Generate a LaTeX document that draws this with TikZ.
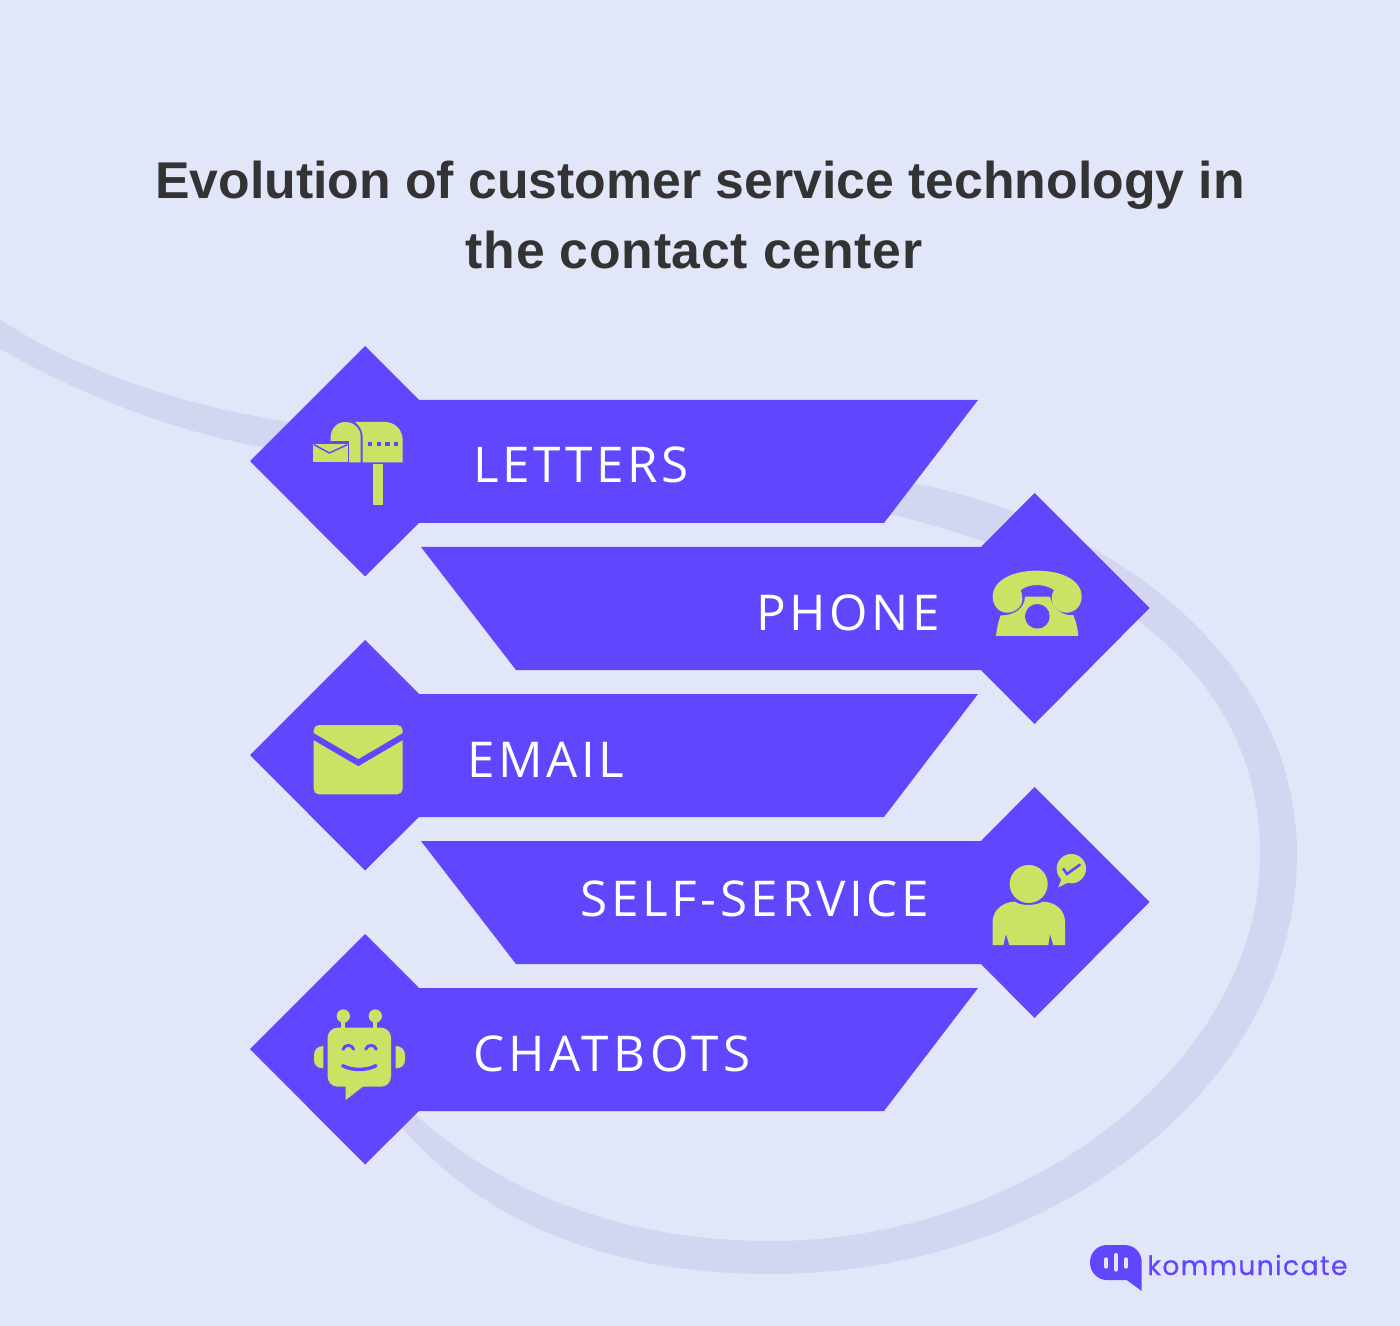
\documentclass[tikz,border=0pt]{standalone}
\usepackage{fontspec}
\setmainfont{Liberation Sans}
\newfontfamily\labelfont[LetterSpace=7.5]{Open Sans}
\newfontfamily\labelwide[LetterSpace=9]{Open Sans}
\newfontfamily\logofont[LetterSpace=5,FakeBold=0.4]{Poppins}
\newfontfamily\titlewide[LetterSpace=1.4]{Liberation Sans}
\definecolor{bgc}{HTML}{E2E6F9}
\definecolor{swoosh}{HTML}{D2D6F0}
\definecolor{vio}{HTML}{6047FE}
\definecolor{lime}{HTML}{CBE364}
\definecolor{ink}{HTML}{333333}
\tikzset{
  banner/.style={fill=vio,draw=none},
  iconfill/.style={fill=lime,draw=none},
  iconcut/.style={fill=vio,draw=none},
  iconline/.style={draw=vio,line width=#1},
  titletext/.style={anchor=base,inner sep=0pt,text=ink,font=\fontsize{38.8}{44}\selectfont\bfseries},
  tag/.style={anchor=base west,inner sep=0pt,text=white,font=\fontsize{37}{44}\labelfont},
  icon/.style={x=0.25pt,y=-0.25pt}
}
\begin{document}
\begin{tikzpicture}[x=0.75pt,y=-0.75pt]
\useasboundingbox (0,0) rectangle (1400,1326);
\fill[bgc] (0,0) rectangle (1400,1326);
% swoosh
\fill[swoosh] (-5,316) .. controls (70,368) and (180,405) .. (287,421.7)
  -- (923,485) .. controls (1130,530) and (1297,670) .. (1297,855)
  .. controls (1297,1080) and (1060,1274) .. (770,1274)
  .. controls (640,1274) and (490,1240) .. (390,1113)
  -- (400,1100) .. controls (490,1190) and (620,1241) .. (770,1241)
  .. controls (1030,1241) and (1260,1060) .. (1260,855)
  .. controls (1260,680) and (1120,570) .. (893,515)
  -- (260,446.7) .. controls (170,430) and (80,395) .. (-5,346) -- cycle;
% title
\node[titletext] (title1) at (700,199) {Evolution of customer service technology in};
\node[titletext] (title2) at (694,269) {\titlewide\bfseries the contact center};
% banners
\foreach \d/\nm in {0/a,294/c,588/e}{
  \fill[banner,yshift={-0.75pt*\d}] (250,461) -- (365,346) -- (419,400) -- (978,400) -- (884,523) -- (419,523) -- (365,576.5) -- cycle;
}
\foreach \d/\nm in {0/b,294/d}{
  \fill[banner,yshift={-0.75pt*\d}] (1149.5,608) -- (1034.5,493) -- (981,547) -- (421,547) -- (516,670) -- (981,670) -- (1034.5,724) -- cycle;
}
% labels
\node[tag] (letters) at (473,483) {LETTERS};
\node[tag] (phone) at (756,630) {PHONE};
\node[tag] (email) at (467,777.5) {EMAIL};
\node[tag] (self) at (580,916.5) {SELF-SERVICE};
\node[tag] (chatbots) at (473,1071.5) {\labelwide CHATBOTS};
% mailbox
\begin{scope}[shift={(290,400)},icon]
  \fill[iconfill] (122,187) -- (122,112) .. controls (122,85) and (142,66) .. (165,66) .. controls (192,66) and (212,85) .. (212,110) -- (212,187) -- cycle;
  \fill[iconfill] (195,66) -- (285,66) .. controls (315,66) and (338,90) .. (338,120) -- (338,187) -- (218,187) -- (218,110) .. controls (218,92) and (208,76) .. (195,66) -- cycle;
  \foreach \zx in {240,266,292,318}{\fill[iconcut] (\zx-6.5,126.5) rectangle (\zx+6.5,139.5);}
  \fill[iconfill] (250,193) rectangle (278,315);
  \fill[iconcut] (65,123) rectangle (178,193);
  \fill[iconfill] (70,133) rectangle (174,187);
  \draw[iconline=1.1pt] (72,134) -- (118,159) -- (172,134);
\end{scope}
% phone
\begin{scope}[shift={(970,550)},icon]
  \fill[iconfill] (68,140) .. controls (68,90) and (130,62) .. (200,62) .. controls (275,62) and (335,90) .. (335,140)
    .. controls (335,170) and (312,188) .. (290,188) .. controls (265,188) and (245,168) .. (245,145)
    .. controls (245,135) and (248,127) .. (252,120) .. controls (222,100) and (180,100) .. (152,120)
    .. controls (156,127) and (157,138) .. (157,148) .. controls (157,170) and (135,188) .. (112,188)
    .. controls (85,188) and (68,165) .. (68,140) -- cycle;
  \fill[iconfill] (92,196) .. controls (130,198) and (165,175) .. (165,140) -- (240,140)
    .. controls (245,170) and (275,200) .. (310,195) .. controls (318,215) and (323,235) .. (325,258) -- (78,258)
    .. controls (80,235) and (85,215) .. (92,196) -- cycle;
  \fill[iconcut] (202,199) circle (37);
\end{scope}
% envelope
\begin{scope}[shift={(300,715)},icon]
  \fill[iconfill,rounded corners=4pt] (41,30) rectangle (308,238);
  \draw[iconline=4.5pt] (36,62) -- (175,143) -- (313,62);
\end{scope}
% person
\begin{scope}[shift={(970,840)},icon]
  \fill[iconfill] (176,132) circle (57);
  \fill[iconfill] (68,315) -- (68,245) .. controls (68,210) and (100,185) .. (135,185)
    .. controls (150,198) and (200,198) .. (218,185) .. controls (255,185) and (285,210) .. (285,245)
    -- (285,315) -- (250,315) -- (240,282) -- (235,315) -- (118,315) -- (108,282) -- (100,315) -- cycle;
  \fill[iconfill] (304,86) circle (44);
  \fill[iconfill] (275,115) -- (265,142) -- (300,125) -- cycle;
  \draw[iconline=1.9pt] (279,85) -- (291,102) -- (331,73);
\end{scope}
% robot
\begin{scope}[shift={(300,1000)},icon]
  \fill[iconfill] (130,48) circle (20);
  \fill[iconfill] (226,48) circle (20);
  \fill[iconfill] (124,48) rectangle (136,90);
  \fill[iconfill] (220,48) rectangle (232,90);
  \fill[iconfill,rounded corners=7.5pt] (83,83) rectangle (273,260);
  \fill[iconfill] (137,255) -- (137,300) -- (195,255) -- cycle;
  \fill[iconfill] (70,138) .. controls (52,138) and (42,150) .. (42,165) -- (42,180) .. controls (42,195) and (52,205) .. (70,205) -- cycle;
  \fill[iconfill] (287,138) .. controls (305,138) and (315,150) .. (315,165) -- (315,180) .. controls (315,195) and (305,205) .. (287,205) -- cycle;
  \draw[iconline=2.2pt,line cap=round] (129,148) .. controls (134,132) and (156,132) .. (161,148);
  \draw[iconline=2.2pt,line cap=round] (197,148) .. controls (202,132) and (224,132) .. (229,148);
  \draw[iconline=2.6pt,line cap=round] (128,197) .. controls (155,212) and (200,212) .. (228,197);
\end{scope}
% logo
\begin{scope}[shift={(1080,1235)},icon]
  \fill[vio] (30,82) .. controls (30,52) and (52,30) .. (82,30) -- (133,30) .. controls (163,30) and (185,52) .. (185,82)
    -- (185,168) -- (140,135) -- (82,135) .. controls (52,135) and (30,112) .. (30,82) -- cycle;
  \draw[bgc,line width=2.5pt,line cap=round] (78,72) -- (78,96);
  \draw[bgc,line width=3pt,line cap=round] (107,60) -- (107,104);
  \draw[bgc,line width=2.5pt,line cap=round] (138,72) -- (138,96);
\end{scope}
\node[anchor=base west,inner sep=0pt,text=vio,font=\fontsize{20}{24}\logofont] (logo) at (1147,1275) {kommunicate};
\end{tikzpicture}
\end{document}
